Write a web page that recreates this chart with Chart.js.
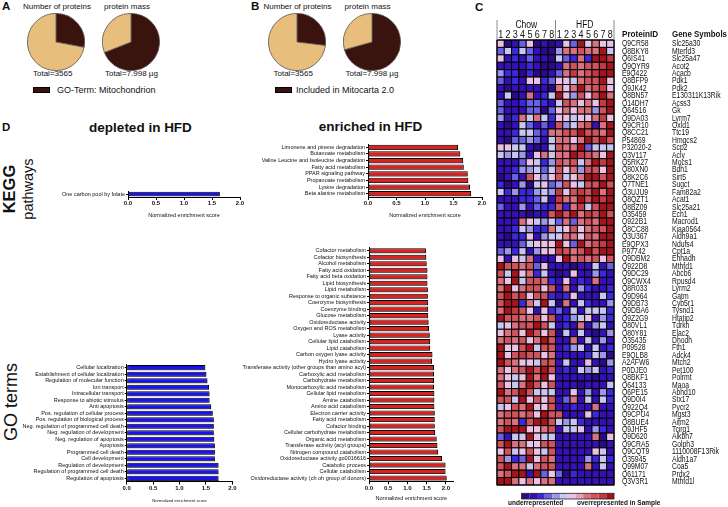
<!DOCTYPE html>
<html><head><meta charset="utf-8">
<script src="https://cdn.jsdelivr.net/npm/chart.js@4.4.1/dist/chart.umd.min.js"></script>
<style>
body{margin:0;background:#fff;}
#root{position:relative;width:728px;height:507px;overflow:hidden;background:#fff;font-family:'Liberation Sans',Arial,sans-serif;color:#111;}
canvas{position:absolute;}
.t{position:absolute;white-space:nowrap;transform:translate(-50%,-50%);line-height:1;}
.l{position:absolute;white-space:nowrap;transform:translate(0,-50%);line-height:1;}
.r{position:absolute;white-space:nowrap;transform:translate(-50%,-50%) rotate(-90deg);line-height:1;}
.box{position:absolute;background:#3a120e;border:1px solid #000;box-sizing:border-box;}
</style></head><body>
<div id="root">
  <div class="l" style="left:2px;top:7px;font-size:11.5px;font-weight:bold">A</div>
  <div class="t" style="left:57px;top:7px;font-size:8px">Number of proteins</div>
  <div class="t" style="left:127px;top:7px;font-size:8px">protein mass</div>
  <div class="l" style="left:33px;top:74px;font-size:8px">Total=3565</div>
  <div class="l" style="left:105px;top:74px;font-size:8px">Total=7.998 µg</div>
  <div class="box" style="left:33px;top:87px;width:17px;height:6px"></div>
  <div class="l" style="left:57px;top:90px;font-size:9px">GO-Term: Mitochondrion</div>

  <div class="l" style="left:251px;top:7px;font-size:11.5px;font-weight:bold">B</div>
  <div class="t" style="left:297.5px;top:7px;font-size:8px">Number of proteins</div>
  <div class="t" style="left:367.5px;top:7px;font-size:8px">protein mass</div>
  <div class="l" style="left:273.5px;top:74px;font-size:8px">Total=3565</div>
  <div class="l" style="left:345.5px;top:74px;font-size:8px">Total=7.998 µg</div>
  <div class="box" style="left:275px;top:87px;width:17px;height:6px"></div>
  <div class="l" style="left:296px;top:90px;font-size:9px">Included in Mitocarta 2.0</div>

  <div class="l" style="left:475px;top:8px;font-size:11.5px;font-weight:bold">C</div>

  <div class="l" style="left:2px;top:127.5px;font-size:11.5px;font-weight:bold">D</div>
  <div class="t" style="left:140.5px;top:128px;font-size:13.5px;font-weight:bold">depleted in HFD</div>
  <div class="t" style="left:370.5px;top:127px;font-size:13.5px;font-weight:bold">enriched in HFD</div>
  <div class="r" style="left:9px;top:189px;font-size:16.5px;font-weight:bold">KEGG</div>
  <div class="r" style="left:28px;top:189px;font-size:14.5px">pathways</div>
  <div class="r" style="left:11px;top:402px;font-size:18px">GO terms</div>

  <canvas id="pieA1" width="58" height="58" style="left:27px;top:13px;width:58px;height:58px"></canvas>
  <canvas id="pieA2" width="58" height="58" style="left:102px;top:13px;width:58px;height:58px"></canvas>
  <canvas id="pieB1" width="58" height="58" style="left:268px;top:13px;width:58px;height:58px"></canvas>
  <canvas id="pieB2" width="58" height="58" style="left:343px;top:13px;width:58px;height:58px"></canvas>
  <canvas id="keggDep" width="248" height="73" style="left:0px;top:150px;width:248px;height:73px"></canvas>
  <canvas id="keggEnr" width="270" height="93" style="left:220px;top:130px;width:270px;height:93px"></canvas>
  <canvas id="goDep" width="242" height="157" style="left:0px;top:350px;width:242px;height:157px"></canvas>
  <canvas id="goEnr" width="270" height="277" style="left:200px;top:230px;width:270px;height:277px"></canvas>
  <canvas id="heat" width="258" height="507" style="left:470px;top:0px;width:258px;height:507px"></canvas>
</div>
<script>
// ---------- DATA ----------
const pieLabels = ['Mitochondrial', 'Other'];
const proteinCountsA = [998, 2567];      // Total=3565
const proteinMassA = [5.52, 2.478];      // Total=7.998 µg
const proteinCountsB = [960, 2605];
const proteinMassB = [5.65, 2.348];

const keggDepLabels = ['One carbon pool by folate'];
const keggDepValues = [1.64];

const keggEnrLabels = ['Limonene and pinene degradation', 'Butanoate metabolism',
  'Valine Leucine and Isoleucine degradation', 'Fatty acid metabolism', 'PPAR signaling pathway',
  'Propanoate metabolism', 'Lysine degradation', 'Beta alanine metabolism'];
const keggEnrValues = [1.58, 1.62, 1.67, 1.68, 1.75, 1.76, 1.79, 1.81];

const goDepLabels = ['Cellular localization', 'Establishment of cellular localization',
  'Regulation of molecular function', 'Ion transport', 'Intracellular transport',
  'Response to abiotic stimulus', 'Anti apoptosis', 'Pos. regulation of cellular process',
  'Pos. regulation of biological process', 'Neg. regulation of programmed cell death',
  'Neg. regulation of development', 'Neg. regulation of apoptosis', 'Apoptosis',
  'Programmed cell death', 'Cell development', 'Regulation of development',
  'Regulation of programmed cell death', 'Regulation of apoptosis'];
const goDepValues = [1.49, 1.51, 1.53, 1.56, 1.57, 1.57, 1.60, 1.63, 1.65, 1.65, 1.65, 1.66, 1.67, 1.67, 1.67, 1.74, 1.74, 1.74];

const goEnrLabels = ['Cofactor metabolism', 'Cofactor biosynthesis', 'Alcohol metabolism',
  'Fatty acid oxidation', 'Fatty acid beta oxidation', 'Lipid biosynthesis', 'Lipid metabolism',
  'Response to organic substance', 'Coenzyme biosynthesis', 'Coenzyme binding', 'Glucose metabolism',
  'Oxidoreductase activity', 'Oxygen and ROS metabolism', 'Lyase activity', 'Cellular lipid catabolism',
  'Lipid catabolism', 'Carbon oxygen lyase activity', 'Hydro lyase activity',
  'Transferase activity (other groups than amino acyl)', 'Carboxylic acid metabolism',
  'Carbohydrate metabolism', 'Monocarboxylic acid metabolism', 'Cellular lipid metabolism',
  'Amine catabolism', 'Amino acid catabolism', 'Electron carrier activity', 'Fatty acid metabolism',
  'Cofactor binding', 'Cellular carbohydrate metabolism', 'Organic acid metabolism',
  'Transferase activity (acyl groups)', 'Nitrogen compound catabolism',
  'Oxidoreductase activity go0016616', 'Catabolic process', 'Cellular catabolism',
  'Oxidoreductase activity (ch oh group of donors)'];
const goEnrValues = [1.48, 1.49, 1.50, 1.52, 1.52, 1.52, 1.53, 1.53, 1.54, 1.54, 1.54, 1.55, 1.56, 1.58,
  1.59, 1.59, 1.65, 1.64, 1.69, 1.69, 1.69, 1.69, 1.70, 1.70, 1.70, 1.71, 1.71, 1.71, 1.72, 1.76,
  1.78, 1.80, 1.90, 1.99, 1.99, 2.02];

const heatColumns = ['Chow 1','Chow 2','Chow 3','Chow 4','Chow 5','Chow 6','Chow 7','Chow 8',
  'HFD 1','HFD 2','HFD 3','HFD 4','HFD 5','HFD 6','HFD 7','HFD 8'];
const sampleNumbers = ['1','2','3','4','5','6','7','8','1','2','3','4','5','6','7','8'];
const proteinIDs = ['Q9CR58','Q8BKY8','Q6IS41','Q9QYR9','E9Q422','Q8BFP9','Q9JK42','Q8BN57','Q14DH7',
  'Q64516','Q9DA03','Q9CR10','Q8CC21','P54869','P32020-2','Q3V117','Q5RK27','Q80XN0','Q8K2C6','Q7TNE1',
  'Q3UJU9','Q8QZT1','Q8BZ09','O35459','Q922B1','Q8CC88','Q3U367','E9QPX3','P97742','Q9DBM2','Q922D8',
  'Q9DC29','Q9CWX4','Q8R033','Q9D964','Q9DB73','Q9DBA6','Q9Z2G9','Q80VL1','Q80Y81','O35435','P09528',
  'E9QLB8','A2AFW6','P0DJE0','Q8BKF1','Q64133','Q6PE15','Q9D0I4','Q922Q4','Q9CPU4','Q8BUE4','Q9JHF5',
  'Q9D620','Q9CRA5','Q9CQT9','O35945','Q99M07','Q61171','Q3V3R1'];
const geneSymbols = ['Slc25a30','Mterfd3','Slc25a47','Acot2','Acacb','Pdk1','Pdk2','E130311K13Rik','Acss3',
  'Gk','Lyrm7','Oxld1','Ttc19','Hmgcs2','Scp2','Acly','Mocs1','Bdh1','Sirt5','Sugct','Fam82a2','Acat1',
  'Slc25a21','Ech1','Macrod1','Kiaa0564','Aldh9a1','Ndufs4','Cpt1a','Ehhadh','Mthfd1','Abcb6','Rpusd4',
  'Lyrm2','Gatm','Cyb5r1','Tysnd1','Htatip2','Tdrkh','Elac2','Dhodh','Fth1','Adck4','Mtch2','Pet100',
  'Polrmt','Maoa','Abhd10','Stx17','Pycr2','Mgst3','Aifm2','Tcirg1','Alkbh7','Golph3','1110008F13Rik',
  'Aldh1a7','Coa5','Prdx2','Mthfd1l'];
// relative abundance level per cell: 0 = most underrepresented ... 11 = most overrepresented
const heatLevels = [
 [6,0,1,3,6,0,1,0, 1,6,3,11,6,8,6,6],
 [3,5,2,5,3,1,0,0, 4,8,8,9,8,8,11,5],
 [6,1,2,1,3,1,1,0, 5,3,2,8,2,11,11,10],
 [1,1,1,1,2,1,0,0, 1,8,9,8,9,9,10,11],
 [4,2,2,0,2,0,0,1, 3,8,10,8,9,10,11,11],
 [3,1,2,1,6,6,2,3, 6,6,5,8,9,9,11,6],
 [1,0,1,1,1,1,1,0, 8,6,8,11,8,9,10,6],
 [1,5,0,1,8,1,2,5, 11,6,4,9,6,9,11,8],
 [3,1,1,2,3,3,2,1, 5,9,8,6,8,6,10,11],
 [3,1,1,1,3,3,0,3, 6,8,6,8,8,4,9,11],
 [4,1,2,8,5,8,5,2, 6,6,5,6,6,8,10,6],
 [1,0,1,5,3,1,3,1, 9,4,5,8,9,1,8,11],
 [1,1,2,5,5,3,2,8, 8,9,9,11,9,9,8,11],
 [1,0,3,3,4,3,1,5, 8,8,6,8,11,9,11,9],
 [6,6,5,5,1,0,1,5, 9,8,8,11,3,5,5,5],
 [5,4,5,4,1,6,8,5, 8,8,11,10,9,8,6,11],
 [1,1,1,3,6,5,2,4, 9,8,9,5,8,11,10,11],
 [1,1,2,4,4,5,3,5, 9,6,8,4,9,9,6,11],
 [0,1,3,1,9,6,4,6, 9,5,6,8,11,11,9,11],
 [2,0,1,4,0,5,6,3, 4,9,6,5,9,9,11,9],
 [5,2,4,2,2,4,5,4, 10,6,9,10,9,11,8,11],
 [1,1,1,2,2,3,5,1, 10,8,8,11,9,11,10,11],
 [3,1,1,4,1,3,2,2, 9,2,8,10,5,9,11,11],
 [1,1,1,1,0,1,1,9, 11,9,11,8,10,9,11,9],
 [1,1,1,8,6,5,4,5, 3,8,3,8,9,8,11,11],
 [1,1,2,5,4,2,2,8, 5,6,9,6,8,9,9,11],
 [1,0,2,2,6,1,4,5, 5,8,8,6,9,8,11,11],
 [1,1,1,3,5,6,6,6, 11,6,3,11,8,9,10,11],
 [3,4,2,5,1,4,6,6, 10,9,8,9,11,9,11,11],
 [6,1,6,5,8,1,1,1, 6,11,8,9,8,9,6,9],
 [11,9,9,8,9,3,6,1, 1,1,0,1,1,5,1,3],
 [9,5,11,6,8,2,5,1, 0,1,6,1,1,4,2,1],
 [8,6,11,5,9,9,8,2, 1,6,1,2,1,8,1,1],
 [8,11,6,8,9,9,6,9, 1,8,1,4,2,1,1,2],
 [9,11,9,10,6,9,9,2, 1,2,6,1,1,1,5,2],
 [9,11,11,2,8,5,11,5, 0,8,1,5,2,1,1,4],
 [8,11,10,9,6,1,6,2, 3,1,5,1,5,5,5,2],
 [11,9,9,8,8,9,6,9, 1,2,4,5,6,1,4,2],
 [5,6,8,9,9,11,9,5, 1,2,1,8,1,4,5,1],
 [6,8,9,6,11,9,6,9, 0,5,1,5,1,0,1,4],
 [8,9,8,9,6,8,11,9, 1,1,8,1,5,1,4,1],
 [11,6,6,9,11,5,9,9, 1,2,4,5,1,5,1,2],
 [11,6,9,10,9,9,6,8, 1,1,1,1,2,5,4,0],
 [11,9,8,6,6,5,9,9, 1,5,1,1,6,1,0,4],
 [8,6,8,9,11,9,11,9, 1,2,1,5,4,5,1,2],
 [8,6,5,6,11,8,11,6, 1,1,1,1,1,0,1,1],
 [9,6,5,8,11,9,6,9, 1,1,1,0,1,1,1,5],
 [11,8,9,11,9,5,5,5, 1,1,6,1,4,1,4,2],
 [9,9,5,11,6,9,6,9, 1,3,8,1,5,1,5,2],
 [5,6,9,8,11,6,6,9, 1,1,2,1,1,8,1,1],
 [8,9,9,8,9,6,11,9, 9,1,1,1,6,2,1,1],
 [8,9,8,2,9,11,11,9, 5,4,5,2,1,1,1,1],
 [9,11,11,11,6,6,8,9, 1,5,5,6,1,4,2,1],
 [3,1,5,5,11,6,5,5, 1,1,1,1,1,8,0,6],
 [9,11,8,8,6,6,9,9, 1,1,1,1,1,1,0,1],
 [6,9,5,6,9,6,5,9, 1,1,1,1,1,6,5,1],
 [9,4,2,3,11,6,9,8, 1,1,1,1,4,2,5,2],
 [9,11,8,8,5,8,9,9, 1,1,1,1,8,1,5,1],
 [8,9,11,11,1,11,3,6, 3,0,2,1,1,1,1,1],
 [11,11,8,6,8,6,8,8, 1,1,1,1,1,1,1,1]
];

// ---------- STYLE ----------
const DARK = '#3a120e', LIGHT = '#e8be7c';
const RED = '#dc1f1f', BLUE = '#1a12f2';
const heatPalette = ['#2a0a85','#3510b5','#3c28d8','#6a60e4','#9d97ea','#cac6f2',
  '#ebc2e6','#e4a2bc','#d9727e','#cf535c','#c23a43','#a3141c'];

Chart.defaults.font.family = "'Liberation Sans', Arial, sans-serif";
Chart.defaults.color = '#111';

function pie(id, values) {
  new Chart(document.getElementById(id), {
    type: 'pie',
    data: { labels: pieLabels, datasets: [{ data: values, backgroundColor: [DARK, LIGHT], borderColor: '#555', borderWidth: 0.8 }] },
    options: { responsive: false, animation: false, events: [], layout: { padding: 0 },
      plugins: { legend: { display: false }, tooltip: { enabled: false } } }
  });
}
pie('pieA1', proteinCountsA);
pie('pieA2', proteinMassA);
pie('pieB1', proteinCountsB);
pie('pieB2', proteinMassB);

const shadowPlugin = {
  id: 'barShadow',
  beforeDatasetsDraw(c) { const ctx = c.ctx; ctx.save(); ctx.shadowColor = 'rgba(70,70,70,0.6)'; ctx.shadowOffsetY = 1.4; ctx.shadowOffsetX = 0; ctx.shadowBlur = 0; },
  afterDatasetsDraw(c) { c.ctx.restore(); }
};

function barChart(id, labels, values, color, cfg) {
  return new Chart(document.getElementById(id), {
    type: 'bar',
    data: { labels: labels, datasets: [{ data: values, backgroundColor: color, borderColor: '#000', borderWidth: 1,
      borderSkipped: false, barPercentage: 0.78, categoryPercentage: 1 }] },
    options: {
      indexAxis: 'y', responsive: false, animation: false, events: [],
      layout: { padding: { left: 0, top: cfg.top, right: cfg.right, bottom: 0 } },
      plugins: { legend: { display: false }, tooltip: { enabled: false } },
      scales: {
        x: { min: 0, max: cfg.max,
          afterFit: s => { s.height = cfg.xh; },
          ticks: { stepSize: 0.5, includeBounds: false, autoSkip: false, maxRotation: 0, padding: 0,
            font: { size: 6, weight: 'bold' }, color: '#111', callback: v => Number(v).toFixed(1) },
          grid: { drawOnChartArea: false, tickLength: 3, color: '#000' },
          border: { display: true, color: '#000', width: 1 },
          title: { display: true, text: 'Normalized enrichment score', color: '#111',
            font: { size: cfg.titleSize }, padding: { top: 0, bottom: cfg.titlePad } } },
        y: { afterFit: s => { s.width = cfg.yw; },
          ticks: { autoSkip: false, padding: 1, font: { size: 5.5 }, color: '#111' },
          grid: { drawOnChartArea: false, offset: false, tickLength: 2, color: '#000' },
          border: { display: true, color: '#000', width: 1 } }
      }
    },
    plugins: [shadowPlugin]
  });
}

barChart('keggDep', keggDepLabels, keggDepValues, BLUE, { top: 41, right: 8, max: 2, xh: 26, yw: 128, titleSize: 5.5, titlePad: 4 });
barChart('keggEnr', keggEnrLabels, keggEnrValues, RED, { top: 14, right: 8, max: 2, xh: 26, yw: 148, titleSize: 5.5, titlePad: 4 });
barChart('goDep', goDepLabels, goDepValues, BLUE, { top: 14.4, right: 9.7, max: 2, xh: 25.4, yw: 126.7, titleSize: 4.2, titlePad: 3.9 });
barChart('goEnr', goEnrLabels, goEnrValues, RED, { top: 17.45, right: 16.4, max: 2.2, xh: 25.75, yw: 169, titleSize: 5.5, titlePad: 5.3 });

// ---------- HEATMAP ----------
const heatPoints = [];
heatLevels.forEach((row, r) => row.forEach((v, c) => heatPoints.push({ x: heatColumns[c], y: proteinIDs[r], v: v })));

function txt(ctx, s, x, y, font, sx, align) {
  ctx.save(); ctx.translate(x, y); ctx.scale(sx, 1); ctx.font = font; ctx.textAlign = align || 'left';
  ctx.textBaseline = 'middle'; ctx.fillText(s, 0, 0); ctx.restore();
}

const heatDecor = {
  id: 'heatDecor',
  afterDraw(chart) {
    const ctx = chart.ctx, xs = chart.scales.x, ys = chart.scales.y, a = chart.chartArea;
    const F = "'Liberation Sans', Arial, sans-serif";
    ctx.save();
    ctx.fillStyle = '#111';
    // outer frame
    ctx.strokeStyle = '#000'; ctx.lineWidth = 1;
    ctx.strokeRect(a.left, a.top, a.right - a.left, a.bottom - a.top);
    // header dividers
    ctx.strokeStyle = '#8a8a8a';
    const mid = (xs.getPixelForValue(7) + xs.getPixelForValue(8)) / 2;
    [a.left, mid, a.right].forEach(x => { ctx.beginPath(); ctx.moveTo(x, a.top - 20); ctx.lineTo(x, a.top); ctx.stroke(); });
    txt(ctx, 'Chow', (xs.getPixelForValue(0) + xs.getPixelForValue(7)) / 2, a.top - 15, '10px ' + F, 0.85, 'center');
    txt(ctx, 'HFD', (xs.getPixelForValue(8) + xs.getPixelForValue(15)) / 2, a.top - 15, '10px ' + F, 0.85, 'center');
    sampleNumbers.forEach((n, c) => txt(ctx, n, xs.getPixelForValue(c), a.top - 5, '10px ' + F, 0.9, 'center'));
    txt(ctx, 'ProteinID', a.right + 8, a.top - 5, 'bold 9px ' + F, 0.9, 'left');
    txt(ctx, 'Gene Symbols', a.right + 58, a.top - 5, 'bold 9px ' + F, 0.88, 'left');
    proteinIDs.forEach((id, i) => {
      const y = ys.getPixelForValue(i) + 0.3;
      txt(ctx, id, a.right + 8, y, '8.5px ' + F, 0.8, 'left');
      txt(ctx, geneSymbols[i], a.right + 58, y, '8.5px ' + F, 0.8, 'left');
    });
    // colour legend
    const lw = 92.4, cw = lw / heatPalette.length, lx = a.right - lw, ly = a.bottom + 8.3, lh = 5.7;
    heatPalette.forEach((col, k) => { ctx.fillStyle = col; ctx.fillRect(lx + k * cw, ly, cw, lh); });
    ctx.strokeStyle = '#222'; ctx.lineWidth = 0.8; ctx.strokeRect(lx, ly, lw, lh);
    ctx.fillStyle = '#111';
    txt(ctx, 'underrepresented', a.left + 11, a.bottom + 18, 'bold 6.5px ' + F, 1, 'left');
    txt(ctx, 'overrepresented in Sample', a.left + 80, a.bottom + 18, 'bold 6.5px ' + F, 1, 'left');
    ctx.restore();
  }
};

new Chart(document.getElementById('heat'), {
  type: 'scatter',
  data: { datasets: [{ data: heatPoints, pointStyle: 'rect', clip: false,
    pointRadius: c => { const a = c.chart.chartArea; if (!a) return 5.2;
      return Math.max((a.right - a.left) / heatColumns.length, (a.bottom - a.top) / proteinIDs.length) / (2 * Math.SQRT1_2); },
    pointBackgroundColor: c => heatPalette[c.raw ? c.raw.v : 0],
    pointBorderColor: '#000', pointBorderWidth: 1 }] },
  options: { responsive: false, animation: false, events: [],
    layout: { padding: { left: 27, top: 40, right: 114, bottom: 22 } },
    plugins: { legend: { display: false }, tooltip: { enabled: false } },
    scales: { x: { type: 'category', labels: heatColumns, offset: true, display: false },
              y: { type: 'category', labels: proteinIDs, offset: true, display: false } } },
  plugins: [heatDecor]
});
</script>
</body></html>
